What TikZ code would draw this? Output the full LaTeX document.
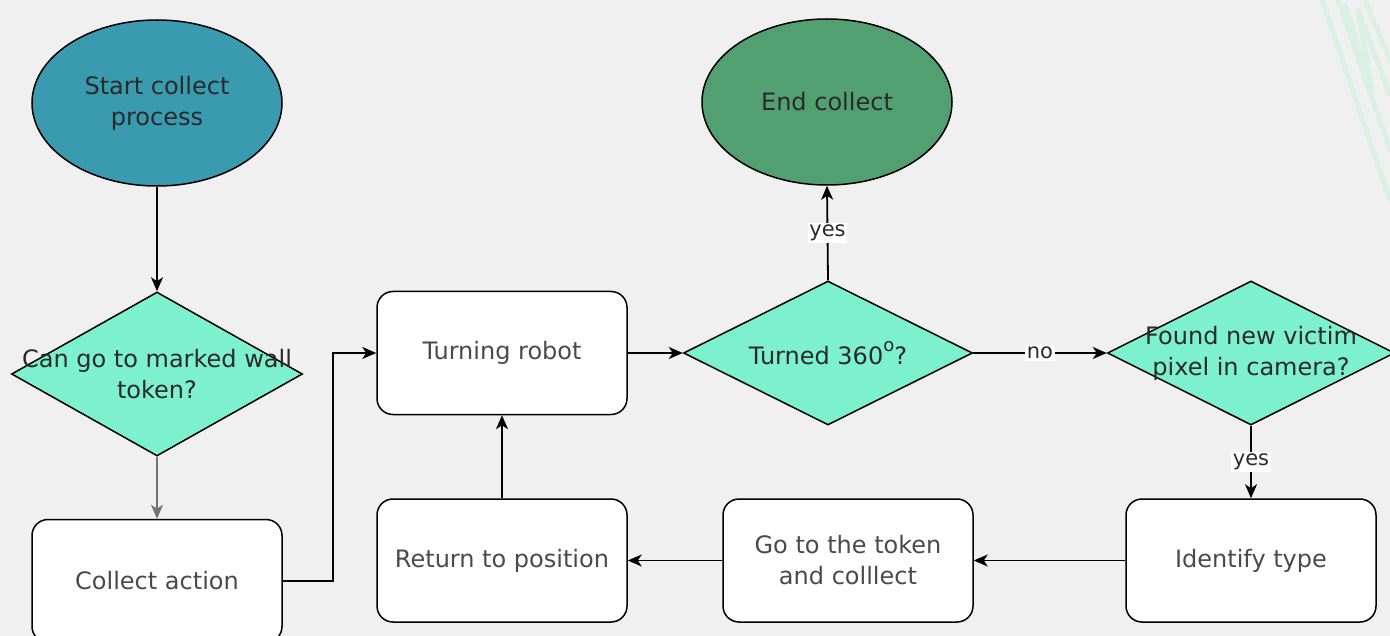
\documentclass[tikz,border=0pt]{standalone}
\usepackage{fontspec}
\setmainfont{DejaVu Sans}
\usetikzlibrary{shapes.geometric,arrows.meta}
\definecolor{bgc}{HTML}{F0F0F0}
\definecolor{startc}{HTML}{3A9BB0}
\definecolor{endc}{HTML}{52A072}
\definecolor{diac}{HTML}{7DF0CD}
\definecolor{sketchc}{HTML}{D9F0E3}
\definecolor{txtc}{HTML}{2A2A2A}
\tikzset{
  ell/.style={ellipse, draw, line width=1.5pt, minimum width=250pt, minimum height=166pt, align=center, font=\fontsize{24}{31}\selectfont, text=txtc},
  dia/.style={diamond, draw, line width=1.5pt, fill=diac, minimum width=289pt, minimum height=144pt, inner sep=0pt},
  diatxt/.style={align=center, font=\fontsize{24}{31}\selectfont, text=txtc},
  box/.style={rectangle, rounded corners=16pt, draw, line width=1.5pt, fill=white, minimum width=250pt, minimum height=123pt, align=center, font=\fontsize{24}{31}\selectfont, text=txtc!85!white},
  arr/.style={line width=1.8pt, -{Stealth[length=14pt,width=12pt,inset=4pt]}},
  lbl/.style={fill=white, inner sep=1.5pt, font=\fontsize{21}{24}\selectfont, text=txtc}
}
\begin{document}
\begin{tikzpicture}[x=1pt,y=-1pt]
\useasboundingbox (0,0) rectangle (1390,636);
\fill[bgc] (0,0) rectangle (1390,636);
\clip (0,0) rectangle (1390,636);
% faint sketch strokes
\draw[sketchc, line width=5pt, line cap=round, line join=round]
  (1322,0) -- (1390,200) (1338,0) -- (1390,150) (1345,5) -- (1372,90) -- (1358,10) -- (1390,95)
  (1365,0) -- (1390,60);
% nodes
\node[ell, fill=startc] (start) at (157,103) {Start collect\\process};
\node[ell, fill=endc] (end) at (827,102) {End collect};
\node[dia, minimum height=164pt, minimum width=291pt] (d1) at (157,374) {};
\node[diatxt] at (d1.center) {Can go to marked wall\\token?};
\node[box] (collect) at (157,581) {Collect action};
\node[box] (turn) at (502,353) {Turning robot};
\node[dia] (d2) at (828,353) {};
\node[diatxt] at (d2.center) {Turned 360\raisebox{1.0ex}{\fontsize{18}{18}\selectfont o}?};
\node[dia, minimum width=287pt] (d3) at (1251,353) {};
\node[diatxt] at (d3.center) {Found new victim\\pixel in camera?};
\node[box] (ident) at (1251,560.5) {Identify type};
\node[box] (go) at (848,560.5) {Go to the token\\and colllect};
\node[box] (ret) at (502,560.5) {Return to position};
% connectors
\draw[arr] (start.south) -- (d1.north);
\draw[arr, black!55] (d1.south) -- (collect.north);
\draw[arr] (collect.east) -- ++(50,0) |- (turn.west);
\draw[arr] (turn.east) -- (d2.west);
\draw[arr] (d2.north) -- node[lbl]{yes} (end.south);
\draw[arr] (d2.east) -- node[lbl]{no} (d3.west);
\draw[arr] (d3.south) -- node[lbl]{yes} (ident.north);
\draw[arr] (ident.west) -- (go.east);
\draw[arr] (go.west) -- (ret.east);
\draw[arr] (ret.north) -- (turn.south);
\end{tikzpicture}
\end{document}
